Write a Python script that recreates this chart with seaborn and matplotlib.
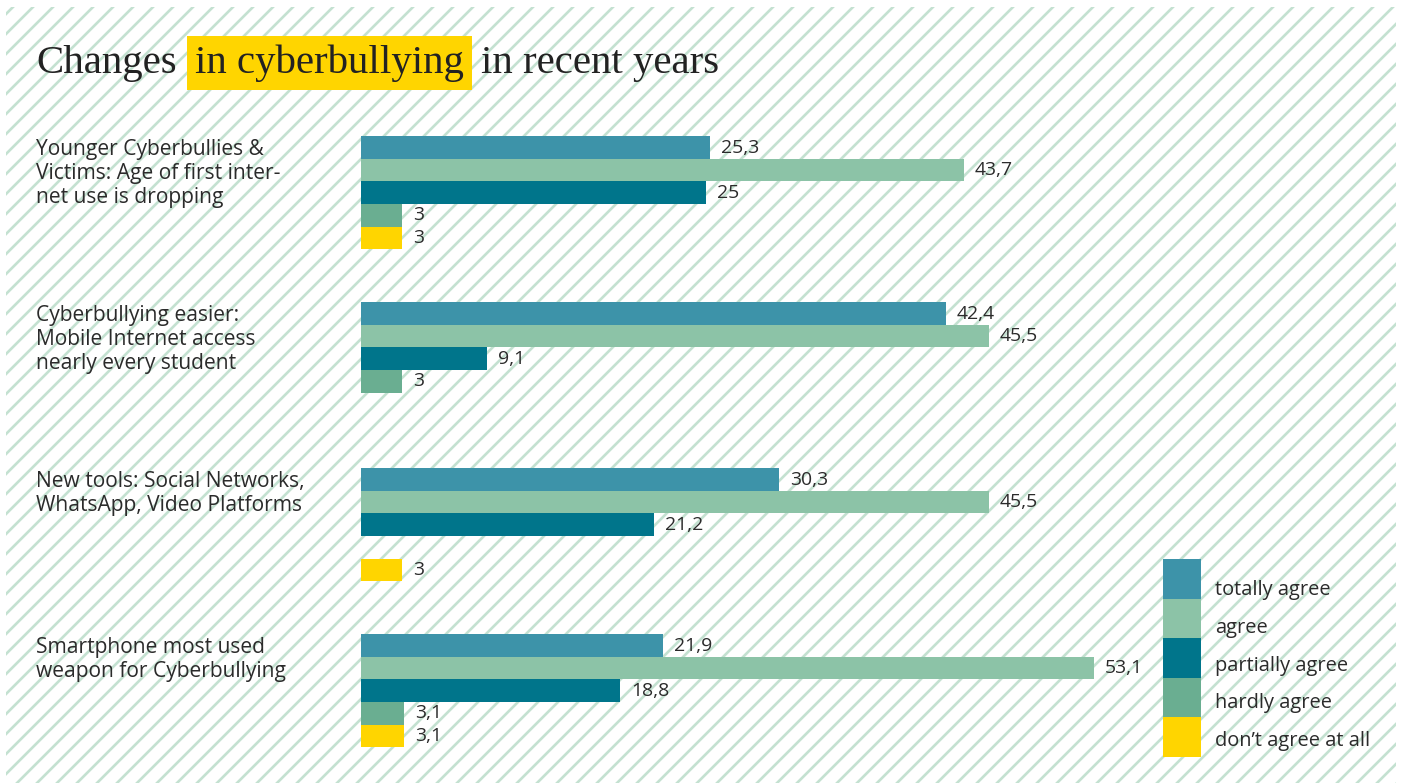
import numpy as np
import pandas as pd
import matplotlib.pyplot as plt
import seaborn as sns
from matplotlib.patches import Rectangle

items = [
    'Younger Cyberbullies &\nVictims: Age of first inter-\nnet use is dropping',
    'Cyberbullying easier:\nMobile Internet access\nnearly every student',
    'New tools: Social Networks,\nWhatsApp, Video Platforms',
    'Smartphone most used\nweapon for Cyberbullying',
]
levels = ['totally agree', 'agree', 'partially agree', 'hardly agree', 'don\u2019t agree at all']
totally_agree = [25.3, 42.4, 30.3, 21.9]
agree = [43.7, 45.5, 45.5, 53.1]
partially_agree = [25.0, 9.1, 21.2, 18.8]
hardly_agree = [3.0, 3.0, np.nan, 3.1]
not_at_all = [3.0, np.nan, 3.0, 3.1]
colors = ['#3d93a9', '#8cc3a7', '#00758b', '#6aae91', '#ffd500']

df = pd.DataFrame({'item': items,
                   levels[0]: totally_agree,
                   levels[1]: agree,
                   levels[2]: partially_agree,
                   levels[3]: hardly_agree,
                   levels[4]: not_at_all})
df = df.melt(id_vars='item', var_name='level', value_name='value').dropna()

sns.set_style('white')
plt.rcParams['font.family'] = ['Open Sans', 'DejaVu Sans']
plt.rcParams['hatch.linewidth'] = 1.6

W, H = 1403, 783
DPI = 120


def fx(x):
    return x / W


def fy(y):
    return 1 - y / H


fig = plt.figure(figsize=(W / DPI, H / DPI), dpi=DPI, facecolor='white')

# striped background
bg = Rectangle((fx(6), 0), (1396 - 6) / W, fy(7), transform=fig.transFigure,
               facecolor='white', edgecolor='#c4e1d1', hatch='//', lw=0, zorder=-5)
fig.add_artist(bg)

ax = fig.add_axes([fx(361), fy(773.75), (1396 - 361) / W, (773.75 - 109.75) / H])
ax.patch.set_alpha(0)

sns.barplot(data=df, y='item', x='value', hue='level', order=items, hue_order=levels,
            palette=colors, orient='h', width=0.68, errorbar=None, saturation=1,
            legend=False, linewidth=0, edgecolor='none', ax=ax)
ax.set_xlim(0, 75)
ax.set_ylim(3.5, -0.5)
ax.set_xlabel('')
ax.set_ylabel('')
ax.set_xticks([])
ax.set_yticks([])
sns.despine(ax=ax, left=True, bottom=True)


def fmt(v):
    return f'{v:g}'.replace('.', ',')


for cont in ax.containers:
    ax.bar_label(cont, labels=[fmt(v) for v in cont.datavalues], padding=6.6,
                 fontsize=11.6, color='#2b2b2b')

# category labels, top-aligned with each group
for i, item in enumerate(items):
    ax.text((36 - 361) / 1035, i - 0.325, item, transform=ax.get_yaxis_transform(),
            ha='left', va='top', fontsize=12.6, color='#2b2b2b', linespacing=1.2)

# title with highlighted part
tfont = dict(family='Liberation Serif', fontsize=24.5, color='#222222')
t1 = fig.text(fx(36), fy(73), 'Changes', va='baseline', **tfont)
t2 = ax.annotate('in cyberbullying', xy=(1, 0), xycoords=t1, xytext=(11, 0),
                 textcoords='offset points', va='bottom', ha='left',
                 bbox=dict(boxstyle='square,pad=0.2', fc='#ffd500', ec='none'),
                 annotation_clip=False, **tfont)
t3 = ax.annotate('in recent years', xy=(1, 0), xycoords=t2, xytext=(10, 0),
                 textcoords='offset points', va='bottom', ha='left',
                 annotation_clip=False, **tfont)

# legend
for i, (lab, col) in enumerate(zip(levels, colors)):
    fig.add_artist(Rectangle((fx(1163), fy(559 + (i + 1) * 39.6)), 38 / W, 39.6 / H,
                             transform=fig.transFigure, facecolor=col, lw=0))
    fig.text(fx(1215), fy(590 + i * 37.75), lab, va='center', ha='left',
             fontsize=12, color='#2b2b2b')

fig.savefig('out.png', dpi=DPI, facecolor='white')
